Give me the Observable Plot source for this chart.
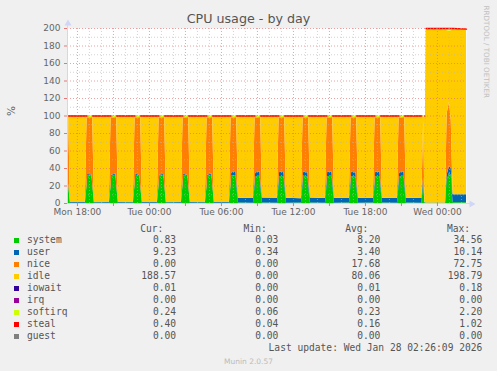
<!DOCTYPE html>
<html><head><meta charset="utf-8">
<script src="https://cdn.jsdelivr.net/npm/d3@7"></script>
<script src="https://cdn.jsdelivr.net/npm/@observablehq/plot@0.6"></script>
<style>
html,body{margin:0;padding:0;background:#f0f0f0;}
#wrap{position:relative;width:497px;height:371px;overflow:hidden;background:#f0f0f0;font-family:"DejaVu Sans",sans-serif;color:#666;}
#chart{position:absolute;left:0;top:0;}
#title{position:absolute;left:0;width:497px;top:11.1px;text-align:center;font-size:12.7px;line-height:15px;color:#555;white-space:nowrap;}
.row{position:absolute;left:0;width:497px;height:12px;line-height:12px;font-family:"DejaVu Sans Mono",monospace;font-size:9.6px;color:#555;}
.row span{position:absolute;top:0;white-space:pre;}
.sw{position:absolute;left:14px;width:5px;height:5px;}
#munin{position:absolute;left:0;width:497px;top:356.6px;text-align:center;font-size:7.5px;line-height:10px;color:#bbb;}
</style></head>
<body>
<div id="wrap">
  <div id="chart"></div>
  <div id="title">CPU usage - by day</div>
  <div id="legend"></div>
  <div id="munin">Munin 2.0.57</div>
</div>
<script>
// ---- data (hours since Mon 00:00), one line per 2-hourly job spike ----
const hours = [
  17.17, 17.27, 17.41,
  18.66, 18.8, 18.85, 19.21, 19.27, 19.41,
  20.66, 20.8, 20.85, 21.21, 21.27, 21.41,
  22.66, 22.8, 22.85, 23.21, 23.27, 23.41,
  24.66, 24.8, 24.85, 25.21, 25.27, 25.41,
  26.66, 26.8, 26.85, 27.21, 27.27, 27.41,
  28.66, 28.8, 28.85, 29.21, 29.27, 29.41,
  30.66, 30.8, 30.85, 31.21, 31.27, 31.41,
  32.66, 32.8, 32.85, 33.21, 33.27, 33.41,
  34.66, 34.8, 34.85, 35.21, 35.27, 35.41,
  36.66, 36.8, 36.85, 37.21, 37.27, 37.41,
  38.66, 38.8, 38.85, 39.21, 39.27, 39.41,
  40.66, 40.8, 40.85, 41.21, 41.27, 41.41,
  42.66, 42.8, 42.85, 43.21, 43.27, 43.41,
  44.66, 44.8, 44.85, 45.21, 45.27, 45.41,
  46.7, 46.85, 46.95, 47.0, 47.05,
  48.68, 48.8, 49.0, 49.15, 49.3,
  50.42
];
const system = [
  30.5, 20, 0.4,
  0.4, 20, 32.0, 31.5, 21, 0.5,
  0.4, 19, 31.0, 32.5, 20, 0.4,
  0.5, 21, 32.5, 31.0, 19, 0.4,
  0.4, 20, 31.5, 32.0, 21, 0.5,
  0.4, 21, 32.0, 31.0, 20, 0.4,
  0.5, 19, 31.0, 32.5, 21, 0.4,
  0.4, 20, 31.5, 32.0, 21, 0.5,
  0.4, 19, 30.0, 31.5, 20, 0.5,
  0.4, 20, 31.0, 30.5, 21, 0.4,
  0.5, 21, 31.5, 30.0, 19, 0.5,
  0.4, 20, 30.5, 31.5, 22, 0.4,
  0.5, 21, 31.0, 30.0, 20, 0.4,
  0.5, 19, 30.5, 31.0, 21, 0.5,
  0.4, 20, 30.0, 31.5, 21, 0.5,
  0.4, 22.0, 0.5, 0.4, 0.3,
  0.3, 26.0, 34.5, 32.0, 1.0,
  0.83
];
const user = [
  1.0, 0.9, 0.7,
  0.7, 0.9, 1.2, 1.0, 0.9, 0.6,
  0.7, 0.9, 1.3, 1.1, 0.9, 0.7,
  0.6, 0.9, 1.2, 1.0, 0.9, 0.7,
  0.7, 0.9, 1.2, 1.1, 0.9, 0.6,
  0.7, 0.9, 1.3, 1.0, 0.9, 0.7,
  0.6, 0.9, 1.2, 1.1, 0.9, 0.7,
  0.7, 2.0, 3.5, 4.5, 5.0, 5.5,
  5.2, 5.0, 5.0, 4.8, 5.0, 5.8,
  5.5, 5.0, 5.2, 4.6, 5.0, 5.6,
  5.0, 5.0, 4.5, 5.0, 5.0, 5.8,
  5.4, 5.0, 5.0, 4.5, 5.0, 5.6,
  5.2, 5.0, 4.8, 5.0, 5.0, 5.7,
  5.3, 5.0, 5.2, 4.6, 5.0, 5.6,
  5.4, 5.0, 5.0, 4.8, 5.0, 5.5,
  5.4, 8.0, 0.6, 0.5, 0.4,
  0.4, 6.0, 8.5, 8.0, 9.0,
  9.23
];
const nice = [
  66.8, 78.5, 0,
  0, 78.5, 64.8, 65.5, 77.5, 0,
  0, 79.5, 65.7, 64.4, 78.5, 0,
  0, 77.5, 64.3, 66.0, 79.5, 0,
  0, 78.5, 65.3, 64.9, 77.5, 0,
  0, 77.5, 64.7, 66.0, 78.5, 0,
  0, 79.5, 65.8, 64.4, 77.5, 0,
  0, 77.4, 63.0, 61.5, 73.4, 0,
  0, 75.4, 63.0, 61.7, 74.4, 0,
  0, 74.4, 61.8, 62.9, 73.4, 0,
  0, 73.4, 62.0, 63.0, 75.4, 0,
  0, 74.4, 62.5, 62.0, 72.4, 0,
  0, 73.4, 62.2, 63.0, 74.4, 0,
  0, 75.4, 62.3, 62.4, 73.4, 0,
  0, 74.4, 63.0, 61.7, 73.4, 0,
  0, 65.0, 0, 0, 0,
  0, 70.0, 72.7, 55.0, 0,
  0
];
const idle = [
  0, 0, 98.3,
  98.3, 0, 0, 0, 0, 98.3,
  98.3, 0, 0, 0, 0, 98.3,
  98.3, 0, 0, 0, 0, 98.3,
  98.3, 0, 0, 0, 0, 98.3,
  98.3, 0, 0, 0, 0, 98.3,
  98.3, 0, 0, 0, 0, 98.3,
  98.3, 0, 0, 0, 0, 93.4,
  93.8, 0, 0, 0, 0, 93.1,
  93.5, 0, 0, 0, 0, 93.4,
  93.9, 0, 0, 0, 0, 93.1,
  93.6, 0, 0, 0, 0, 93.4,
  93.7, 0, 0, 0, 0, 93.3,
  93.6, 0, 0, 0, 0, 93.3,
  93.6, 0, 0, 0, 0, 93.4,
  93.6, 3.5, 98.3, 98.5, 198.5,
  198.5, 95.5, 81.1, 102.5, 189.3,
  188.57
];
const softirq = [
  1.6, 0.2, 0.2,
  0.2, 0.2, 1.9, 1.9, 0.2, 0.2,
  0.2, 0.2, 1.9, 1.9, 0.2, 0.2,
  0.2, 0.2, 1.9, 1.9, 0.2, 0.2,
  0.2, 0.2, 1.9, 1.9, 0.2, 0.2,
  0.2, 0.2, 1.9, 1.9, 0.2, 0.2,
  0.2, 0.2, 1.9, 1.9, 0.2, 0.2,
  0.2, 0.2, 1.9, 1.9, 0.2, 0.2,
  0.2, 0.2, 1.9, 1.9, 0.2, 0.2,
  0.2, 0.2, 1.9, 1.9, 0.2, 0.2,
  0.2, 0.2, 1.9, 1.9, 0.2, 0.2,
  0.2, 0.2, 1.9, 1.9, 0.2, 0.2,
  0.2, 0.2, 1.9, 1.9, 0.2, 0.2,
  0.2, 0.2, 1.9, 1.9, 0.2, 0.2,
  0.2, 0.2, 1.9, 1.9, 0.2, 0.2,
  0.2, 1.4, 0.2, 0.5, 0.3,
  0.3, 1.5, 2.2, 1.5, 0.3,
  0.24
];
const steal = [
  0.1, 0.4, 0.4,
  0.4, 0.4, 0.1, 0.1, 0.4, 0.4,
  0.4, 0.4, 0.1, 0.1, 0.4, 0.4,
  0.4, 0.4, 0.1, 0.1, 0.4, 0.4,
  0.4, 0.4, 0.1, 0.1, 0.4, 0.4,
  0.4, 0.4, 0.1, 0.1, 0.4, 0.4,
  0.4, 0.4, 0.1, 0.1, 0.4, 0.4,
  0.4, 0.4, 0.1, 0.1, 0.4, 0.4,
  0.4, 0.4, 0.1, 0.1, 0.4, 0.4,
  0.4, 0.4, 0.1, 0.1, 0.4, 0.4,
  0.4, 0.4, 0.1, 0.1, 0.4, 0.4,
  0.4, 0.4, 0.1, 0.1, 0.4, 0.4,
  0.4, 0.4, 0.1, 0.1, 0.4, 0.4,
  0.4, 0.4, 0.1, 0.1, 0.4, 0.4,
  0.4, 0.4, 0.1, 0.1, 0.4, 0.4,
  0.4, 0.1, 0.4, 0.1, 0.5,
  0.5, 1.0, 1.0, 1.0, 0.4,
  0.40
];

// series, colours, legend
const seriesNames = ["system","user","nice","idle","iowait","irq","softirq","steal","guest"];
const seriesColors = ["#00CC00","#0066B3","#FF8000","#FFCC00","#330099","#990099","#CCFF00","#FF0000","#808080"];
const legendCur = ["0.83","9.23","0.00","188.57","0.01","0.00","0.24","0.40","0.00"];
const legendMin = ["0.03","0.34","0.00","0.00","0.00","0.00","0.06","0.04","0.00"];
const legendAvg = ["8.20","3.40","17.68","80.06","0.01","0.00","0.23","0.16","0.00"];
const legendMax = ["34.56","10.14","72.75","198.79","0.18","0.00","2.20","1.02","0.00"];
const lastUpdate = "Last update: Wed Jan 28 02:26:09 2026";

// ticks
const xTicks = [18, 24, 30, 36, 42, 48];
const xTickLabels = ["Mon 18:00","Tue 00:00","Tue 06:00","Tue 12:00","Tue 18:00","Wed 00:00"];
const xMajor = [18, 21, 24, 27, 30, 33, 36, 39, 42, 45, 48];
const xMinor = [19, 20, 22, 23, 25, 26, 28, 29, 31, 32, 34, 35, 37, 38, 40, 41, 43, 44, 46, 47, 49, 50];
const yTicks = [0, 20, 40, 60, 80, 100, 120, 140, 160, 180, 200];
const yMinor = [10, 30, 50, 70, 90, 110, 130, 150, 170, 190];

// build long table
const drawn = {system, user, nice, idle, softirq, steal};
const long = [];
for (const name of ["system","user","nice","idle","softirq","steal"]) {
  hours.forEach((t, i) => long.push({t, v: drawn[name][i], series: name}));
}
const totals = hours.map((t, i) => ({
  t, st: steal[i],
  v: system[i] + user[i] + nice[i] + idle[i] + softirq[i] + steal[i]
}));

const axisColor = "#CFD6F8";
const minorGrid = {stroke: "#b8b8b8", strokeDasharray: "1,2", strokeOpacity: 0.6};
const majorGrid = {stroke: "#e07070", strokeDasharray: "1,2", strokeOpacity: 0.65};
const chart = Plot.plot({
  width: 497, height: 222,
  marginTop: 28, marginRight: 31, marginBottom: 19, marginLeft: 67,
  style: {background: "transparent", fontFamily: "DejaVu Sans", fontSize: "9px", color: "#666", overflow: "visible"},
  x: {domain: [hours[0], hours[hours.length - 1]]},
  y: {domain: [0, 200]},
  color: {domain: seriesNames, range: seriesColors},
  marks: [
    Plot.frame({fill: "white", stroke: null}),
    Plot.areaY(long, {x: "t", y: "v", z: "series", fill: "series", order: seriesNames, curve: "linear"}),
    Plot.lineY(totals, {x: "t", y: d => d.st > 0.3 ? d.v : NaN, stroke: "#FF0000", strokeWidth: 1.4}),
    Plot.ruleY(yMinor, minorGrid),
    Plot.ruleX(xMinor, minorGrid),
    Plot.ruleY(yTicks.slice(1), majorGrid),
    Plot.ruleX(xMajor, majorGrid),
    Plot.ruleX([hours[0]], {stroke: axisColor, insetTop: -4}),
    Plot.ruleY([0], {stroke: axisColor, insetRight: -4}),
    Plot.ruleX(xMajor, {y1: 0, y2: 0, insetBottom: -3, stroke: "#e07878"}),
    Plot.ruleY(yTicks, {x1: hours[0], x2: hours[0], insetLeft: -3, stroke: "#e07878"}),
    Plot.dot([0], {frameAnchor: "top-left", dx: 0.5, dy: -5, symbol: "triangle", r: 2.6, fill: axisColor, stroke: null}),
    Plot.dot([0], {frameAnchor: "bottom-right", dx: 5, dy: 0.5, symbol: "triangle", rotate: 90, r: 2.6, fill: axisColor, stroke: null}),
    Plot.axisX(xTicks, {tickSize: 0, tickPadding: 5, label: null, tickFormat: d => xTickLabels[xTicks.indexOf(d)]}),
    Plot.axisY(yTicks, {tickSize: 0, tickPadding: 7, label: null}),
    Plot.text(["%"], {text: d => d, frameAnchor: "left", dx: -56, rotate: -90, fontSize: 10.5, fill: "#666"}),
    Plot.text(["RRDTOOL / TOBI OETIKER"], {text: d => d, frameAnchor: "top-right", dx: 22.5, dy: -23, rotate: 90, textAnchor: "start", fontSize: 7.2, fill: "#c0c0c0"})
  ]
});
document.getElementById("chart").appendChild(chart);

// legend (HTML)
const legend = document.getElementById("legend");
function addRow(top, cells, swatch) {
  const row = document.createElement("div");
  row.className = "row";
  row.style.top = top + "px";
  for (const [text, opt] of cells) {
    const s = document.createElement("span");
    s.textContent = text;
    if (opt.left != null) s.style.left = opt.left + "px";
    if (opt.right != null) s.style.right = (497 - opt.right) + "px";
    row.appendChild(s);
  }
  legend.appendChild(row);
  if (swatch) {
    const sw = document.createElement("div");
    sw.className = "sw";
    sw.style.top = (top + 5.8 - 2.5) + "px";
    sw.style.background = swatch;
    legend.appendChild(sw);
  }
}
addRow(222.5, [["Cur:", {right: 163.3}], ["Min:", {right: 266.7}], ["Avg:", {right: 368.3}], ["Max:", {right: 470}]]);
seriesNames.forEach((name, i) => {
  addRow(234.2 + 12 * i, [
    [name, {left: 27}],
    [legendCur[i], {right: 176}],
    [legendMin[i], {right: 278.3}],
    [legendAvg[i], {right: 380.3}],
    [legendMax[i], {right: 482.3}]
  ], seriesColors[i]);
});
addRow(341.9, [[lastUpdate, {right: 482.3}]]);
</script>
</body></html>
